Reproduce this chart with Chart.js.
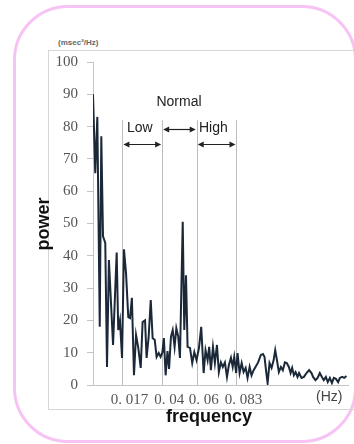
<!DOCTYPE html>
<html lang="en">
<head>
<meta charset="UTF-8" />
<title>Power spectrum</title>
<script src="https://cdn.jsdelivr.net/npm/chart.js"></script>
<style>
  html, body { margin: 0; padding: 0; background: #fff; }
  body { width: 354px; height: 444px; position: relative; overflow: hidden; font-family: 'Liberation Sans', Arial, sans-serif; }
  .frame { position: absolute; left: 13px; top: 5px; width: 344px; height: 438px; border: 3px solid #f7c3f4; border-radius: 55px; box-sizing: border-box; filter: blur(0.5px); }
  .box { position: absolute; left: 48px; top: 50px; width: 330px; height: 360px; border: 1px solid #d6d6d6; box-sizing: border-box; }
  .unit { position: absolute; left: 58px; top: 38px; font: bold 8px 'Liberation Sans', sans-serif; color: #666; }
  canvas { position: absolute; left: 0; top: 0; }
</style>
</head>
<body>

<div class="frame"></div>
<div class="box"></div>
<div class="unit">(msec²/Hz)</div>
<canvas id="spectrum" width="354" height="444"></canvas>

<script>
  // spectrum: frequency (Hz) and power
  const freq = [
    0.0000, 0.0013, 0.0025, 0.0039, 0.0048, 0.0058, 0.0071, 0.0081, 0.0092, 0.0116,
    0.0137, 0.0146, 0.0156, 0.0168, 0.0179, 0.0191, 0.0204, 0.0214, 0.0225, 0.0237,
    0.0249, 0.0262, 0.0276, 0.0287, 0.0301, 0.0310, 0.0322, 0.0334, 0.0345, 0.0357,
    0.0368, 0.0380, 0.0391, 0.0401, 0.0410, 0.0420, 0.0431, 0.0440, 0.0451, 0.0461,
    0.0472, 0.0482, 0.0493, 0.0503, 0.0519, 0.0528, 0.0538, 0.0547, 0.0561, 0.0574,
    0.0586, 0.0599, 0.0613, 0.0626, 0.0640, 0.0651, 0.0663, 0.0672, 0.0682, 0.0694,
    0.0705, 0.0717, 0.0728, 0.0740, 0.0751, 0.0763, 0.0775, 0.0786, 0.0798, 0.0808,
    0.0817, 0.0828, 0.0836, 0.0848, 0.0860, 0.0871, 0.0883, 0.0894, 0.0906, 0.0917,
    0.0929, 0.0940, 0.0955, 0.0971, 0.0983, 0.0992, 0.1002, 0.1010, 0.1021, 0.1033,
    0.1045, 0.1054, 0.1064, 0.1075, 0.1087, 0.1098, 0.1110, 0.1121, 0.1133, 0.1143,
    0.1152, 0.1162, 0.1172, 0.1183, 0.1192, 0.1206, 0.1220, 0.1235, 0.1250, 0.1264,
    0.1273, 0.1287, 0.1299, 0.1312, 0.1324, 0.1335, 0.1347, 0.1358, 0.1370, 0.1382,
    0.1393, 0.1405, 0.1418, 0.1428, 0.1441, 0.1453, 0.1466
  ];
  const power = [
    90, 65.6, 83, 18, 77, 46, 44, 5.6, 38.7, 12.4,
    41, 17, 20, 8.4, 42, 34.7, 21, 20.7, 27, 3,
    15.5, 11.5, 5.3, 19.5, 20, 8.4, 15, 26.3, 14.5, 14,
    8.7, 9.9, 8.7, 10, 14.5, 3, 10.5, 5, 15, 17,
    11.8, 17.6, 15, 8.4, 50.5, 17, 34, 11.8, 11.5, 6.8,
    10.2, 7.7, 11.5, 18, 3.7, 10.8, 7.7, 11.8, 4.6, 11.8,
    6.8, 12.4, 4, 7, 5.6, 7, 2.5, 6.2, 8.4, 5.6,
    8.7, 3.7, 9.9, 3.7, 6.8, 4, 5.3, 2.2, 5.6, 3,
    4.6, 5.6, 7, 9.3, 9.6, 8.7, 4, 0.6, 6.8, 5.3,
    7.7, 10.8, 7.7, 4, 5.6, 4.6, 7, 6.8, 5.6, 3.7,
    5.3, 3, 4, 2.5, 3.7, 2.2, 2.5, 3.7, 4.6, 3.7,
    2.5, 1.5, 2.2, 3.7, 2.5, 1.5, 2.5, 0.9, 2.2, 0.6,
    2.2, 1.9, 0.9, 2.2, 2.5, 2.2, 2.8
  ];
  const xTicks = [0.017, 0.04, 0.06, 0.083];
  const xTickLabels = ['0. 017', '0. 04', '0. 06', '0. 083'];
  const bandLines = [0.017, 0.04, 0.06, 0.083];

  const ink = '#1b2838';

  const bandPlugin = {
    id: 'bands',
    beforeDatasetsDraw(chart) {
      const { ctx, scales: { x, y } } = chart;
      ctx.save();
      ctx.strokeStyle = '#bdbdbd';
      ctx.lineWidth = 1;
      bandLines.forEach(f => {
        const px = Math.round(x.getPixelForValue(f)) + 0.5;
        ctx.beginPath();
        ctx.moveTo(px, y.getPixelForValue(82));
        ctx.lineTo(px, y.getPixelForValue(0));
        ctx.stroke();
      });
      ctx.restore();
    },
    afterDraw(chart) {
      const { ctx, scales: { x, y } } = chart;
      const arrow = (f1, f2, v) => {
        const x1 = x.getPixelForValue(f1) + 1, x2 = x.getPixelForValue(f2) - 1;
        const py = Math.round(y.getPixelForValue(v)) + 0.5;
        ctx.beginPath();
        ctx.moveTo(x1 + 3, py); ctx.lineTo(x2 - 3, py); ctx.stroke();
        ctx.beginPath();
        ctx.moveTo(x1, py); ctx.lineTo(x1 + 6, py - 3); ctx.lineTo(x1 + 6, py + 3); ctx.closePath();
        ctx.moveTo(x2, py); ctx.lineTo(x2 - 6, py - 3); ctx.lineTo(x2 - 6, py + 3); ctx.closePath();
        ctx.fill();
      };
      ctx.save();
      ctx.strokeStyle = '#222';
      ctx.fillStyle = '#222';
      ctx.lineWidth = 1.2;
      arrow(0.017, 0.04, 74.6);
      arrow(0.04, 0.06, 79.3);
      arrow(0.06, 0.083, 74.6);

      ctx.font = '14px "Liberation Sans", Arial, sans-serif';
      ctx.textBaseline = 'middle';
      ctx.textAlign = 'center';
      ctx.fillText('Normal', 179, 102);
      ctx.textAlign = 'left';
      ctx.fillText('Low', 127, 128);
      ctx.fillText('High', 199, 128);

      ctx.fillStyle = '#444';
      ctx.fillText('(Hz)', 316, 397);

      ctx.fillStyle = '#111';
      ctx.font = 'bold 18px "Liberation Sans", Arial, sans-serif';
      ctx.textAlign = 'center';
      ctx.fillText('frequency', 209, 417);
      ctx.translate(44, 224);
      ctx.rotate(-Math.PI / 2);
      ctx.fillText('power', 0, 0);
      ctx.restore();
    }
  };

  new Chart(document.getElementById('spectrum'), {
    type: 'line',
    data: {
      datasets: [{
        data: freq.map((f, i) => ({ x: f, y: power[i] })),
        borderColor: ink,
        borderWidth: 2,
        pointRadius: 0,
        tension: 0,
        fill: false
      }]
    },
    options: {
      responsive: false,
      animation: false,
      layout: { padding: { top: 62, right: 6, left: 0, bottom: 0 } },
      plugins: { legend: { display: false }, tooltip: { enabled: false } },
      scales: {
        x: {
          type: 'linear',
          min: 0,
          max: 0.1475,
          afterFit: s => { s.height = 59; },
          afterBuildTicks: s => { s.ticks = xTicks.map(v => ({ value: v })); },
          grid: { drawOnChartArea: false, drawTicks: false },
          border: { display: true, color: '#c4c4c4' },
          ticks: {
            autoSkip: false,
            maxRotation: 0,
            padding: 6,
            labelOffset: 7,
            color: '#555',
            font: { family: '"Liberation Serif", serif', size: 15 },
            callback: (v, i) => xTickLabels[i]
          }
        },
        y: {
          min: 0,
          max: 100,
          afterFit: s => { s.width = 93; },
          grid: { drawOnChartArea: false, drawTicks: true, tickLength: 6, color: '#c4c4c4' },
          border: { display: true, color: '#c4c4c4' },
          ticks: {
            stepSize: 10,
            padding: 9,
            color: '#555',
            font: { family: '"Liberation Serif", serif', size: 15 }
          }
        }
      }
    },
    plugins: [bandPlugin]
  });
</script>

</body>
</html>
